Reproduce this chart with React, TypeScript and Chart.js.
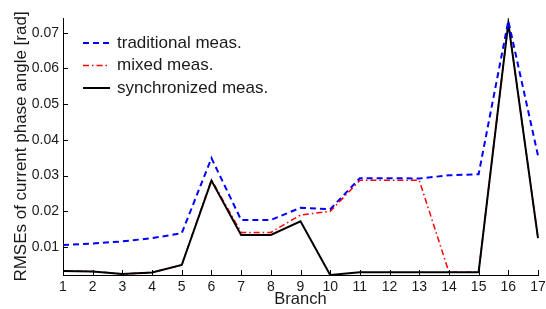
import React, { useEffect, useRef } from 'react';
import { Chart, registerables } from 'chart.js';
Chart.register(...registerables);

const branches = ['1', '2', '3', '4', '5', '6', '7', '8', '9', '10', '11', '12', '13', '14', '15', '16', '17'];
const traditional = [0.0106, 0.0110, 0.0116, 0.0125, 0.0139, 0.0349, 0.0176, 0.0176, 0.0210, 0.0206, 0.0293, 0.0293, 0.0292, 0.0301, 0.0304, 0.0733, 0.0356];
const mixed = [0.0033, 0.0032, 0.0025, 0.0029, 0.0050, 0.0289, 0.0141, 0.0141, 0.0190, 0.0200, 0.0287, 0.0287, 0.0287, 0.0030, 0.0030, 0.0727, 0.0125];
const synchronized = [0.0033, 0.0032, 0.0025, 0.0029, 0.0050, 0.0286, 0.0134, 0.0134, 0.0172, 0.0022, 0.0030, 0.0030, 0.0030, 0.0030, 0.0030, 0.0727, 0.0125];
const yTicks = [0.01, 0.02, 0.03, 0.04, 0.05, 0.06, 0.07];
const seriesLabels = ['traditional meas.', 'mixed meas.', 'synchronized meas.'];
const xTitle = 'Branch';
const yTitle = 'RMSEs of current phase angle [rad]';

const FONT = "'Liberation Sans', Arial, Helvetica, sans-serif";
const TXT = '#1a1a1a';

const styles = [
  { color: '#0000ff', dash: [6, 4], width: 2 },
  { color: '#ff0000', dash: [6, 3, 1.5, 3], width: 1.5 },
  { color: '#000000', dash: [] as number[], width: 2 },
];

const decor = {
  id: 'decor',
  afterDraw(chart: any) {
    const { ctx, chartArea, scales } = chart;
    ctx.save();
    ctx.strokeStyle = '#000';
    ctx.lineWidth = 1;
    ctx.setLineDash([]);
    for (const v of yTicks) {
      const y = Math.round(scales.y.getPixelForValue(v)) + 0.5;
      ctx.beginPath();
      ctx.moveTo(chartArea.left, y);
      ctx.lineTo(chartArea.left + 5, y);
      ctx.stroke();
    }
    for (let i = 0; i < branches.length; i++) {
      const x = Math.round(scales.x.getPixelForValue(i)) + 0.5;
      ctx.beginPath();
      ctx.moveTo(x, chartArea.bottom);
      ctx.lineTo(x, chartArea.bottom - 5);
      ctx.stroke();
    }
    const lx0 = chartArea.left + 20;
    const lx1 = chartArea.left + 47;
    const tx = chartArea.left + 54;
    const ty0 = chartArea.top + 25;
    const gap = 22.5;
    ctx.font = `17px ${FONT}`;
    ctx.textBaseline = 'middle';
    ctx.textAlign = 'left';
    seriesLabels.forEach((lab, i) => {
      const y = ty0 + i * gap;
      const s = styles[i];
      ctx.strokeStyle = s.color;
      ctx.lineWidth = s.width;
      ctx.setLineDash(s.dash);
      ctx.beginPath();
      ctx.moveTo(lx0, y);
      ctx.lineTo(lx1, y);
      ctx.stroke();
      ctx.setLineDash([]);
      ctx.fillStyle = TXT;
      ctx.fillText(lab, tx, y);
    });
    ctx.restore();
  },
};

export default function App() {
  const ref = useRef<HTMLCanvasElement>(null);
  useEffect(() => {
    if (!ref.current) return;
    const series = [traditional, mixed, synchronized];
    const orders = [0, 2, 1];
    const chart = new Chart(ref.current, {
      type: 'line',
      data: {
        labels: branches,
        datasets: series.map((d, i) => ({
          label: seriesLabels[i],
          data: d,
          borderColor: styles[i].color,
          borderWidth: styles[i].width,
          borderDash: styles[i].dash,
          pointRadius: 0,
          fill: false,
          tension: 0,
          order: orders[i],
        })),
      },
      options: {
        animation: false,
        responsive: false,
        devicePixelRatio: 1,
        layout: { padding: { left: 0, top: 18, right: 8, bottom: 0 } },
        plugins: { legend: { display: false }, tooltip: { enabled: false } },
        scales: {
          x: {
            type: 'category',
            offset: false,
            grid: { display: false, drawTicks: false },
            border: { display: true, color: '#000', width: 1 },
            ticks: { color: TXT, font: { family: FONT, size: 14 }, padding: 4, maxRotation: 0, autoSkip: false },
            title: { display: true, text: xTitle, color: TXT, font: { family: FONT, size: 16.5 }, padding: { top: 0, bottom: 0 } },
            afterFit: (s: any) => { s.height = 34; s.paddingLeft = 0; s.paddingRight = 0; },
          },
          y: {
            type: 'linear',
            min: 0.0022,
            max: 0.0741,
            grid: { display: false, drawTicks: false },
            border: { display: true, color: '#000', width: 1 },
            afterBuildTicks: (s: any) => { s.ticks = yTicks.map((v) => ({ value: v })); },
            ticks: { color: TXT, font: { family: FONT, size: 14 }, padding: 4, callback: (v: any) => Number(v).toFixed(2) },
            title: { display: true, text: yTitle, color: TXT, font: { family: FONT, size: 17 }, padding: { top: 11, bottom: 0 } },
            afterFit: (s: any) => { s.width = 63; s.paddingTop = 0; s.paddingBottom = 0; },
          },
        },
      },
      plugins: [decor],
    });
    return () => chart.destroy();
  }, []);
  return (
    <div style={{ position: 'fixed', left: 0, top: 0, width: 546, height: 309, background: '#fff' }}>
      <canvas ref={ref} width={546} height={309} style={{ display: 'block', width: 546, height: 309 }} />
    </div>
  );
}
